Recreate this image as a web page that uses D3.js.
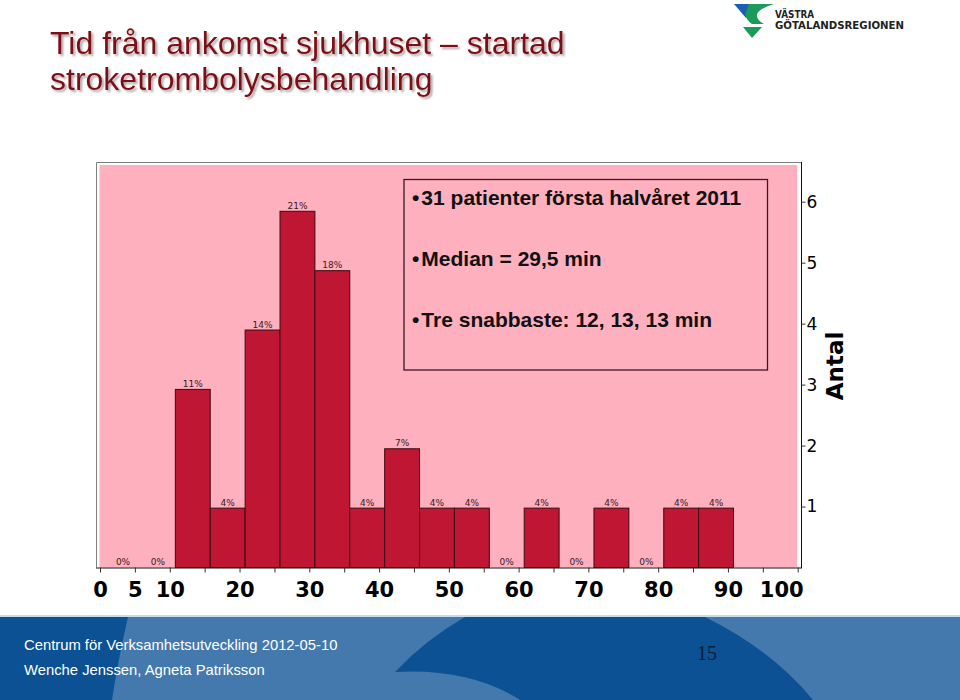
<!DOCTYPE html>
<html><head><meta charset="utf-8">
<script src="https://cdn.jsdelivr.net/npm/d3@7"></script>
<style>body{margin:0;background:#fff;} svg{display:block}</style>
</head><body>
<svg id="chart" width="960" height="700"></svg>
<script>
// ---- data ----
const binStarts = [0.8, 5.8, 10.8, 15.8, 20.8, 25.8, 30.8, 35.8, 40.8, 45.8, 50.8, 55.8, 60.8, 65.8, 70.8, 75.8, 80.8, 85.8];
const counts    = [0, 0, 3, 1, 4, 6, 5, 1, 2, 1, 1, 0, 1, 0, 1, 0, 1, 1];
const pctLabels = ["0%","0%","11%","4%","14%","21%","18%","4%","7%","4%","4%","0%","4%","0%","4%","0%","4%","4%"];
const binWidth = 5;
const xTicks = [0,5,10,15,20,25,30,35,40,45,50,55,60,65,70,75,80,85,90,95,100];
const xTickLabels = [0,5,10,20,30,40,50,60,70,80,90,100];
const yTicks = [1,2,3,4,5,6];
const yAxisTitle = "Antal";
const infoLines = ["31 patienter första halvåret 2011", "Median = 29,5 min", "Tre snabbaste: 12, 13, 13 min"];
const titleLines = ["Tid från ankomst sjukhuset – startad", "stroketrombolysbehandling"];
const footerLines = ["Centrum för Verksamhetsutveckling 2012-05-10", "Wenche Jenssen, Agneta Patriksson"];
const pageNumber = "15";
const logoLines = ["VÄSTRA", "GÖTALANDSREGIONEN"];

const svg = d3.select("#chart");
const defs = svg.append("defs");
defs.append("filter").attr("id", "shadow").attr("x", "-5%").attr("y", "-20%").attr("width", "110%").attr("height", "150%")
  .append("feDropShadow").attr("dx", 2).attr("dy", 2).attr("stdDeviation", 0.8)
  .attr("flood-color", "#8a7a7a").attr("flood-opacity", 0.7);

// ---- title ----
const title = svg.append("g").attr("filter", "url(#shadow)");
titleLines.forEach((t, i) => {
  title.append("text").attr("x", 50).attr("y", 54 + i * 36)
    .attr("font-family", "Liberation Sans, Arial, sans-serif").attr("font-size", 32)
    .attr("fill", "#7d0c12").text(t);
});

// ---- logo ----
const logo = svg.append("g");
logo.append("path").attr("d", "M734,4 L756,4 L746,18 Z").attr("fill", "#1a5fb4");
logo.append("path").attr("d", "M749,4 L774,4 Q760,8 757,14 Q756,20 764,24 L752,24 Q744,18 746,12 Q748,7 749,4 Z").attr("fill", "#1c9a5a");
logo.append("path").attr("d", "M743,27 L762,27 L752,38 Z").attr("fill", "#1c9a5a");
logo.append("text").attr("x", 775).attr("y", 18).attr("font-family", "DejaVu Sans, sans-serif")
  .attr("font-weight", "bold").attr("font-size", 10.5).attr("fill", "#222")
  .attr("textLength", 39).attr("lengthAdjust", "spacingAndGlyphs").text(logoLines[0]);
logo.append("text").attr("x", 775).attr("y", 29).attr("font-family", "DejaVu Sans, sans-serif")
  .attr("font-weight", "bold").attr("font-size", 10.5).attr("fill", "#222")
  .attr("textLength", 129).attr("lengthAdjust", "spacingAndGlyphs").text(logoLines[1]);

// ---- chart ----
const x = d3.scaleLinear().domain([0, 100]).range([100, 797.7]);
const yBar = d3.scaleLinear().domain([0, 6]).range([567.5, 211.3]);
const yAx = d3.scaleLinear().domain([0, 6]).range([567.5, 201.7]);

// frame
svg.append("path").attr("d", "M96.5,567.5 V162.5 H801.5").attr("fill", "none").attr("stroke", "#808080");
svg.append("rect").attr("x", 99.5).attr("y", 165).attr("width", 797.2 - 99.5).attr("height", 567.5 - 165)
  .attr("fill", "#feb0bf");

// bars
svg.append("g").selectAll("rect").data(binStarts).join("rect")
  .attr("x", d => x(d)).attr("width", d => x(d + binWidth) - x(d))
  .attr("y", (d, i) => yBar(counts[i])).attr("height", (d, i) => yBar(0) - yBar(counts[i]))
  .attr("fill", "#be1633").attr("stroke", "#3d0a12").attr("stroke-width", 1)
  .attr("display", (d, i) => counts[i] > 0 ? null : "none");

// bar labels
svg.append("g").selectAll("text").data(binStarts).join("text")
  .attr("x", d => x(d + binWidth / 2)).attr("y", (d, i) => yBar(counts[i]) - 2.5)
  .attr("text-anchor", "middle").attr("font-family", "DejaVu Sans, sans-serif")
  .attr("font-size", 9).attr("fill", "#3a1a20").text((d, i) => pctLabels[i]);

// info box
svg.append("rect").attr("x", 404).attr("y", 179.5).attr("width", 363.5).attr("height", 190.5)
  .attr("fill", "none").attr("stroke", "#3a1a22").attr("stroke-width", 1.3);
infoLines.forEach((t, i) => {
  const tx = svg.append("text").attr("x", 412).attr("y", 205 + i * 61)
    .attr("font-family", "Liberation Sans, Arial, sans-serif").attr("font-weight", "bold")
    .attr("font-size", 21).attr("fill", "#111");
  tx.append("tspan").text("•");
  tx.append("tspan").attr("dx", 2).text(t);
});

// x axis
const xAxis = d3.axisBottom(x).tickValues(xTicks).tickSize(5).tickSizeOuter(0)
  .tickFormat(d => xTickLabels.includes(d) ? d : "");
const gx = svg.append("g").attr("transform", "translate(0,567.5)").call(xAxis);
gx.select(".domain").attr("d", "M96,0.5 H802").attr("stroke", "#111");
gx.selectAll(".tick line").attr("stroke", "#333");
gx.selectAll(".tick text").attr("font-family", "DejaVu Sans, sans-serif").attr("font-weight", "bold")
  .attr("font-size", 21).attr("fill", "#000").attr("dy", 0).attr("y", 29)
  .filter(d => d === 100).attr("text-anchor", "end").attr("x", 5.5);

// y axis (right)
const yAxis = d3.axisRight(yAx).tickValues(yTicks).tickSize(4).tickSizeOuter(0).tickFormat(d3.format("d"));
const gy = svg.append("g").attr("transform", "translate(801.5,0)").call(yAxis);
gy.select(".domain").attr("d", "M0,162 V568").attr("stroke", "#111");
gy.selectAll(".tick line").attr("stroke", "#333");
gy.selectAll(".tick text").attr("font-family", "DejaVu Sans, sans-serif")
  .attr("font-size", 17).attr("fill", "#000").attr("x", 5);
svg.append("text").attr("transform", "translate(843,366) rotate(-90)").attr("text-anchor", "middle")
  .attr("font-family", "DejaVu Sans, sans-serif").attr("font-weight", "bold").attr("font-size", 23)
  .attr("fill", "#000").text(yAxisTitle);

// ---- footer ----
const f = svg.append("g");
f.append("rect").attr("x", 0).attr("y", 616).attr("width", 960).attr("height", 84).attr("fill", "#4479ad");
f.append("path").attr("d", "M0,617 L128,617 Q118,660 112,700 L0,700 Z").attr("fill", "#0b5193");
f.append("path").attr("d", "M465,617 L705,617 Q772,650 813,700 L520,700 Q470,668 395,672 Q425,640 465,617 Z").attr("fill", "#0b5193");
f.append("rect").attr("x", 0).attr("y", 615).attr("width", 960).attr("height", 2).attr("fill", "#c9dcee");
footerLines.forEach((t, i) => {
  f.append("text").attr("x", 24).attr("y", 650 + i * 24.5)
    .attr("font-family", "Liberation Sans, Arial, sans-serif").attr("font-size", 14.8)
    .attr("fill", "#fff").text(t);
});
f.append("text").attr("x", 697).attr("y", 660).attr("font-family", "Liberation Serif, serif")
  .attr("font-size", 20).attr("fill", "#0d1d3a").text(pageNumber);
</script>
</body></html>
